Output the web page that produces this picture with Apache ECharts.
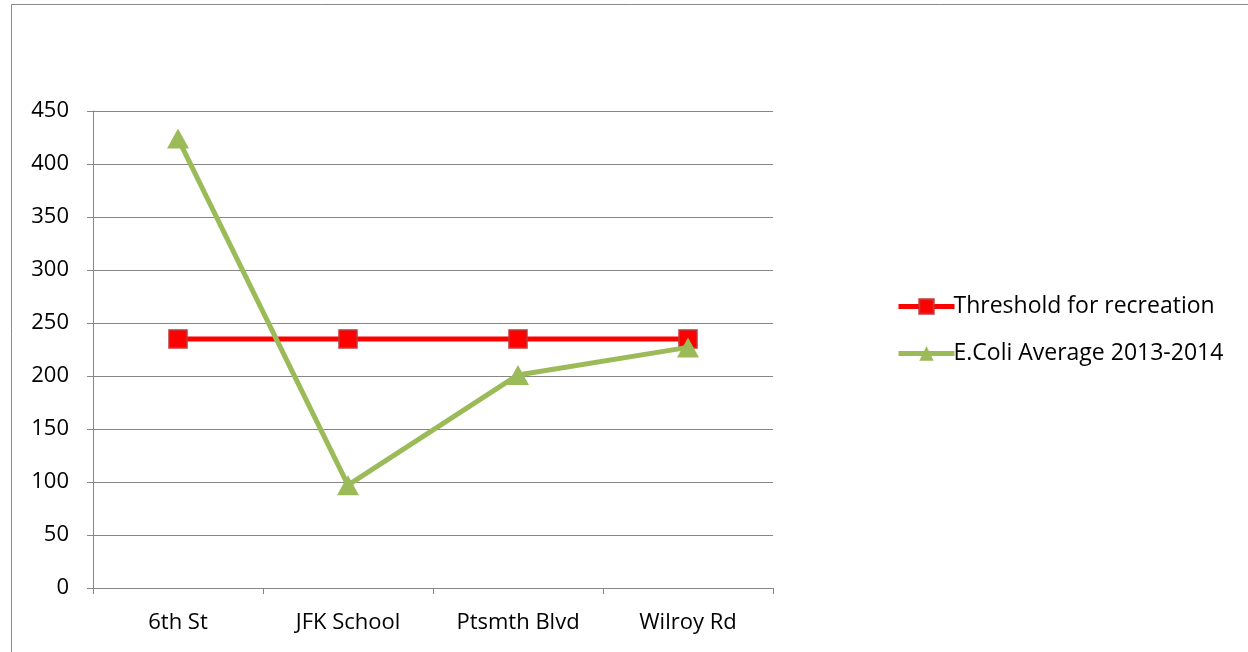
<!DOCTYPE html>
<html>
<head>
<meta charset="utf-8">
<script src="https://cdn.jsdelivr.net/npm/echarts@6/dist/echarts.min.js"></script>
<style>
html,body{margin:0;padding:0;background:#fff;}
#chart{width:1248px;height:652px;}
</style>
</head>
<body>
<div id="chart"></div>
<script>
// Sampling sites along the x-axis
const sites = ['6th St', 'JFK School', 'Ptsmth Blvd', 'Wilroy Rd'];
// Recreational threshold (constant per site)
const threshold = [235, 235, 235, 235];
// E. coli average, 2013-2014
const ecoli = [424, 97, 201, 227];
// Value axis labels
const yTicks = [0, 50, 100, 150, 200, 250, 300, 350, 400, 450];

const FONT = '"Open Sans", sans-serif';
const chart = echarts.init(document.getElementById('chart'), null, {renderer: 'canvas'});

chart.setOption({
  animation: false,
  backgroundColor: '#fff',
  graphic: [{
    type: 'rect',
    shape: {x: 11.5, y: 4.5, width: 1260, height: 700},
    style: {fill: 'none', stroke: '#8a8a8a', lineWidth: 1},
    silent: true
  }],
  grid: {left: 93, right: 475, top: 111, bottom: 64},
  legend: {
    orient: 'vertical',
    left: 896,
    top: 295,
    padding: 0,
    itemGap: 24,
    itemWidth: 56,
    itemHeight: 18,
    textStyle: {fontFamily: FONT, fontSize: 23, color: '#000', padding: [0, 0, 0, -6]},
    data: [
      {name: 'Threshold for recreation', lineStyle: {width: 5, color: '#ff0000'}},
      {name: 'E.Coli Average 2013-2014', lineStyle: {width: 5, color: '#9bbb59'}}
    ]
  },
  xAxis: {
    type: 'category',
    data: sites,
    boundaryGap: true,
    axisLine: {lineStyle: {color: '#868686', width: 1}},
    axisTick: {show: true, length: 6, lineStyle: {color: '#868686'}},
    axisLabel: {fontFamily: FONT, fontSize: 22, color: '#000', margin: 24}
  },
  yAxis: {
    type: 'value',
    min: 0,
    max: 450,
    interval: 50,
    axisLine: {show: true, lineStyle: {color: '#868686', width: 1}},
    axisTick: {show: true, length: 6, lineStyle: {color: '#868686'}},
    splitLine: {lineStyle: {color: '#868686', width: 1}},
    axisLabel: {
      fontFamily: FONT, fontSize: 22, color: '#000', margin: 24,
      formatter: v => yTicks.includes(v) ? String(v) : ''
    }
  },
  series: [
    {
      name: 'Threshold for recreation',
      type: 'line',
      data: threshold,
      symbol: 'rect',
      symbolSize: 18,
      lineStyle: {color: '#ff0000', width: 5},
      itemStyle: {color: '#ff0000', borderColor: '#c0393b', borderWidth: 1.5},
      z: 2
    },
    {
      name: 'E.Coli Average 2013-2014',
      type: 'line',
      data: ecoli,
      symbol: 'triangle',
      symbolSize: [22, 20],
      lineStyle: {color: '#9bbb59', width: 5},
      itemStyle: {color: '#9bbb59', borderColor: '#9bbb59', borderWidth: 0},
      z: 3
    }
  ]
});
</script>
</body>
</html>
